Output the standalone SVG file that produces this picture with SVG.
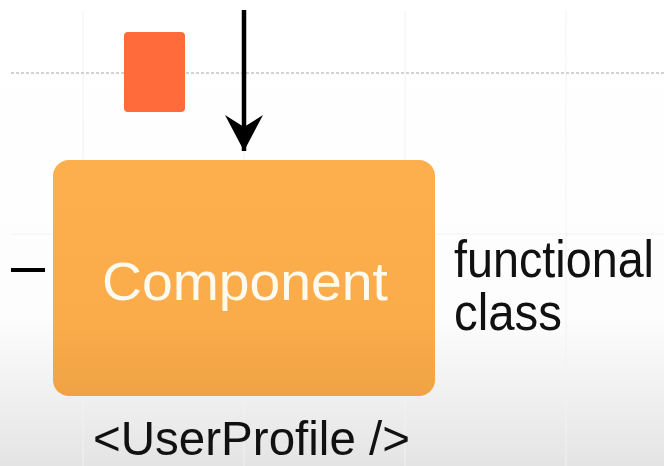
<svg xmlns="http://www.w3.org/2000/svg" width="664" height="466" viewBox="0 0 664 466">
  <defs>
    <linearGradient id="bg" x1="0" y1="0" x2="0" y2="1">
      <stop offset="0" stop-color="#ffffff"/>
      <stop offset="0.68" stop-color="#fdfdfd"/>
      <stop offset="1" stop-color="#e4e4e4"/>
    </linearGradient>
    <linearGradient id="orange" x1="0" y1="0" x2="0" y2="1">
      <stop offset="0" stop-color="#fdaf4d"/>
      <stop offset="0.7" stop-color="#faab4a"/>
      <stop offset="1" stop-color="#f0a344"/>
    </linearGradient>
    <!-- notched arrowhead, drawn pointing along +x -->
    <marker id="head" viewBox="0 0 36 38" refX="36" refY="19" markerWidth="36" markerHeight="38" markerUnits="userSpaceOnUse" orient="auto">
      <path d="M0,0 L36,19 L0,38 L12,19 Z" fill="#000"/>
    </marker>
  </defs>
  <style>
    .grid { stroke: #f2f2f2; stroke-width: 1; fill: none; }
    .dotted { stroke: #c4c4c4; stroke-width: 1.5; stroke-dasharray: 3 2; fill: none; }
    .label { font-family: "Liberation Sans", Arial, sans-serif; fill: #111; }
    .title { font-family: "Liberation Sans", Arial, sans-serif; fill: #fffaf0; }
  </style>

  <!-- canvas -->
  <rect x="0" y="0" width="664" height="466" fill="url(#bg)"/>

  <!-- background grid -->
  <g id="grid">
    <line class="grid" x1="83" y1="10" x2="83" y2="466"/>
    <line class="grid" x1="244" y1="10" x2="244" y2="466"/>
    <line class="grid" x1="405" y1="10" x2="405" y2="466"/>
    <line class="grid" x1="566" y1="10" x2="566" y2="466"/>
    <line class="grid" x1="11" y1="234" x2="664" y2="234"/>
    <line class="grid" x1="11" y1="396" x2="664" y2="396"/>
    <line class="dotted" x1="11" y1="73" x2="664" y2="73"/>
  </g>

  <!-- small marker block -->
  <g id="block">
    <rect x="124" y="32" width="61" height="80" rx="4" fill="#ff6b3b"/>
  </g>

  <!-- component node -->
  <g id="component">
    <rect x="53" y="160" width="382" height="236" rx="16" fill="url(#orange)"/>
    <text class="title" x="245" y="300" font-size="53" text-anchor="middle" textLength="286" lengthAdjust="spacingAndGlyphs">Component</text>
  </g>

  <!-- side labels -->
  <g id="kinds">
    <text class="label" x="454" y="277" font-size="52" textLength="200" lengthAdjust="spacingAndGlyphs">functional</text>
    <text class="label" x="454" y="330" font-size="52" textLength="108" lengthAdjust="spacingAndGlyphs">class</text>
  </g>

  <g id="tag">
    <text class="label" x="93" y="455" font-size="49" textLength="317" lengthAdjust="spacingAndGlyphs">&lt;UserProfile /&gt;</text>
  </g>

  <!-- connectors -->
  <g id="connectors">
    <line x1="244" y1="10" x2="244" y2="151" stroke="#000" stroke-width="4.5" marker-end="url(#head)"/>
    <line x1="11" y1="270" x2="45" y2="270" stroke="#000" stroke-width="4"/>
  </g>
</svg>
